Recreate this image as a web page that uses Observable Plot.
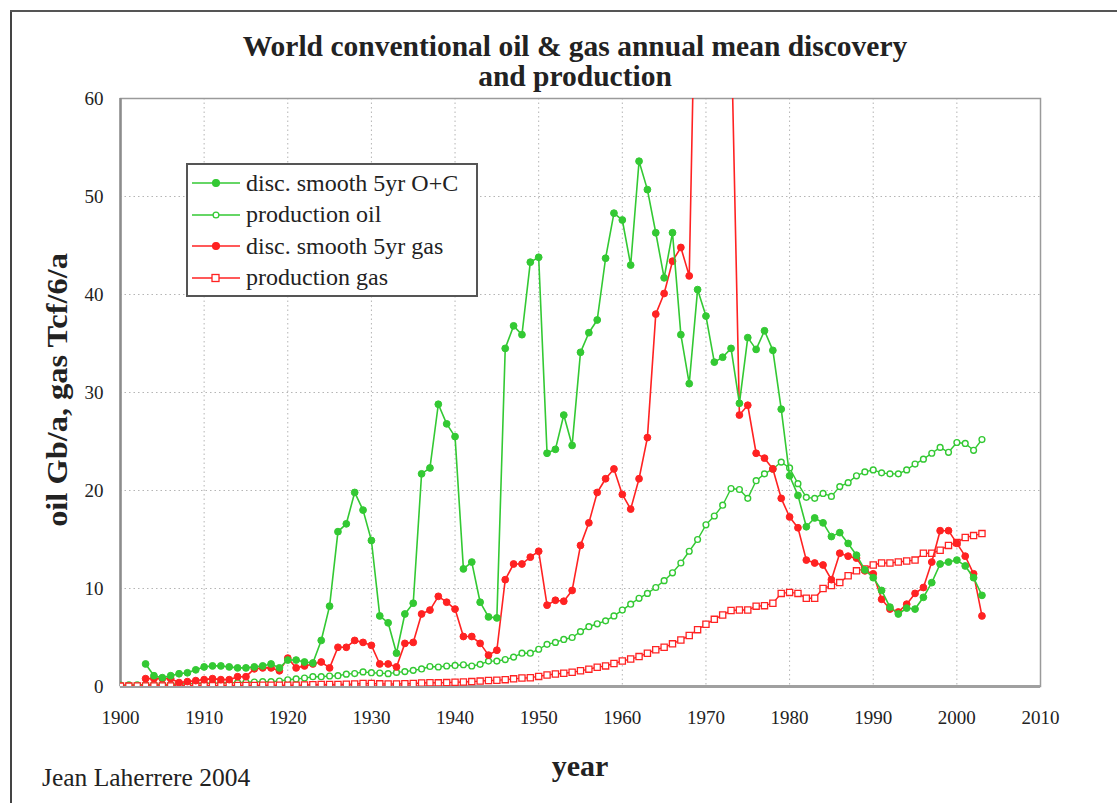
<!DOCTYPE html>
<html>
<head>
<meta charset="utf-8">
<script src="https://cdn.jsdelivr.net/npm/d3@7"></script>
<script src="https://cdn.jsdelivr.net/npm/@observablehq/plot@0.6"></script>
<style>
  html, body { margin: 0; padding: 0; background: #fff; }
  #wrap { position: relative; width: 1117px; height: 803px; overflow: hidden; background: #fff; font-family: "Liberation Serif", "Times New Roman", serif; color: #222; }
  #titlebox { height: 90px; position: relative; }
  .tline { position: absolute; left: 575px; transform: translate(-50%, -50%); white-space: nowrap; font-weight: bold; font-size: 29.5px; line-height: 30px; }
  #chart svg { display: block; font-family: "Liberation Serif", "Times New Roman", serif !important; }
  #chart svg text, #chart svg g { font-family: "Liberation Serif", "Times New Roman", serif !important; }
  .abs { position: absolute; white-space: nowrap; }
  #ylab { left: 57px; top: 390px; transform: translate(-50%, -50%) rotate(-90deg) scaleX(1.08); font-weight: bold; font-size: 30px; }
  #xlab { left: 580px; top: 766px; transform: translate(-50%, -50%); font-weight: bold; font-size: 30px; }
  #caption { left: 42px; top: 778px; transform: translate(0, -50%); font-size: 25.5px; }
  #legend { left: 186px; top: 163px; width: 292px; height: 134px; border: 2px solid #555; box-sizing: border-box; background: #fff; }
  .lrow { position: absolute; left: 0; height: 32px; display: flex; align-items: center; font-size: 24px; }
  .lrow svg { display: block; margin-left: 4px; margin-right: 6px; }
  #bleft { left: 10px; top: 10px; width: 2px; height: 800px; background: #444; }
  #btop { left: 10px; top: 10px; width: 1107px; height: 2px; background: #555; }
</style>
</head>
<body>
<div id="wrap">
  <div id="titlebox">
    <div class="tline" style="top:46px">World conventional oil &amp; gas annual mean discovery</div>
    <div class="tline" style="top:76px">and production</div>
  </div>
  <div id="chart"></div>
  <div id="ylab" class="abs">oil Gb/a, gas Tcf/6/a</div>
  <div id="xlab" class="abs">year</div>
  <div id="caption" class="abs">Jean Laherrere 2004</div>
  <div id="legend" class="abs"></div>
  <div id="bleft" class="abs"></div>
  <div id="btop" class="abs"></div>
</div>
<script>
// ---- data ----
const green = "#33c933";
const red = "#ff2222";

const xTicks = [1900, 1910, 1920, 1930, 1940, 1950, 1960, 1970, 1980, 1990, 2000, 2010];
const yTicks = [0, 10, 20, 30, 40, 50, 60];

// discovery smoothed 5yr oil+condensate, Gb/a, from 1903 to 2003
const discOilStart = 1903;
const discOil = [
  2.3, 1.1, 0.9, 1.1, 1.3, 1.4, 1.7,
  2.0, 2.1, 2.1, 2.0, 1.9, 1.9, 2.0, 2.1, 2.3, 1.9,
  2.7, 2.7, 2.5, 2.4, 4.7, 8.2, 15.8, 16.6, 19.8, 18.0,
  14.9, 7.2, 6.5, 3.4, 7.4, 8.5, 21.7, 22.3, 28.8, 26.8,
  25.5, 12.0, 12.7, 8.6, 7.1, 7.0, 34.5, 36.8, 35.9, 43.3,
  43.8, 23.8, 24.2, 27.7, 24.6, 34.1, 36.1, 37.4, 43.7, 48.3,
  47.6, 43.0, 53.6, 50.7, 46.3, 41.7, 46.3, 35.9, 30.9, 40.5,
  37.8, 33.1, 33.6, 34.5, 28.9, 35.6, 34.4, 36.3, 34.3, 28.3,
  21.5, 19.5, 16.3, 17.2, 16.7, 15.3, 15.7, 14.6, 13.4, 11.9,
  11.1, 9.8, 8.1, 7.4, 8.0, 7.9, 9.1, 10.6, 12.5, 12.7,
  12.9, 12.3, 11.1, 9.3
];

// production oil, Gb/a, 1900 to 2003
const prodOilStart = 1900;
const prodOil = [
  0.15, 0.17, 0.18, 0.19, 0.22, 0.22, 0.21, 0.26, 0.28, 0.30,
  0.33, 0.34, 0.35, 0.38, 0.40, 0.43, 0.46, 0.50, 0.50, 0.56,
  0.69, 0.77, 0.86, 1.0, 1.0, 1.07, 1.1, 1.26, 1.32, 1.49,
  1.41, 1.37, 1.31, 1.44, 1.52, 1.65, 1.79, 2.04, 1.99, 2.09,
  2.15, 2.22, 2.09, 2.26, 2.59, 2.59, 2.75, 3.0, 3.4, 3.4,
  3.8, 4.3, 4.5, 4.8, 5.0, 5.6, 6.1, 6.4, 6.7, 7.2,
  7.8, 8.4, 9.0, 9.5, 10.1, 10.8, 11.6, 12.6, 13.8, 15.0,
  16.5, 17.4, 18.5, 20.2, 20.1, 19.2, 21.0, 21.7, 22.2, 22.9,
  22.3, 20.7, 19.3, 19.2, 19.7, 19.4, 20.4, 20.8, 21.5, 21.9,
  22.1, 21.8, 21.7, 21.7, 22.1, 22.7, 23.2, 23.8, 24.4, 23.9,
  24.9, 24.8, 24.1, 25.2
];

// discovery smoothed 5yr gas, Tcf/6 per year, 1903 to 2003 (1969-1973 off scale)
const discGasStart = 1903;
const discGas = [
  0.8, 0.8, 0.8, 0.8, 0.4, 0.5, 0.6,
  0.7, 0.8, 0.7, 0.7, 1.0, 1.0, 1.8, 1.9, 1.9, 1.6,
  2.9, 1.9, 2.1, 2.3, 2.5, 1.9, 4.0, 4.0, 4.7, 4.5,
  4.2, 2.3, 2.3, 2.0, 4.4, 4.5, 7.4, 7.8, 9.2, 8.6,
  7.9, 5.1, 5.1, 4.4, 3.2, 3.7, 10.9, 12.5, 12.5, 13.2,
  13.8, 8.3, 8.8, 8.7, 9.8, 14.4, 16.7, 19.8, 21.2, 22.2,
  19.6, 18.1, 21.2, 25.4, 38.0, 40.1, 43.4, 44.8, 41.9, 85,
  95, 100, 90, 68, 27.7, 28.7, 23.8, 23.3, 22.2, 19.2,
  17.3, 16.2, 12.9, 12.6, 12.4, 10.9, 13.6, 13.3, 13.1, 11.8,
  11.5, 8.9, 7.9, 7.6, 8.4, 9.5, 10.1, 12.7, 15.9, 15.9,
  14.6, 13.3, 11.5, 7.2
];

// production gas, Tcf/6 per year, 1900 to 2003
const prodGasStart = 1900;
const prodGas = [
  0.04, 0.04, 0.05, 0.05, 0.05, 0.06, 0.06, 0.07, 0.07, 0.08,
  0.08, 0.09, 0.09, 0.10, 0.10, 0.10, 0.11, 0.12, 0.12, 0.12,
  0.13, 0.13, 0.15, 0.19, 0.20, 0.20, 0.21, 0.23, 0.25, 0.30,
  0.30, 0.27, 0.25, 0.26, 0.28, 0.31, 0.35, 0.38, 0.37, 0.40,
  0.43, 0.46, 0.50, 0.55, 0.61, 0.63, 0.70, 0.78, 0.86, 0.90,
  1.03, 1.18, 1.27, 1.35, 1.45, 1.60, 1.77, 1.97, 2.10, 2.35,
  2.60, 2.80, 3.05, 3.40, 3.75, 4.00, 4.35, 4.75, 5.20, 5.80,
  6.35, 6.85, 7.30, 7.75, 7.80, 7.80, 8.20, 8.25, 8.50, 9.50,
  9.60, 9.50, 9.00, 9.00, 10.0, 10.3, 10.6, 11.3, 11.8, 12.0,
  12.4, 12.6, 12.6, 12.7, 12.8, 12.9, 13.6, 13.6, 13.9, 14.4,
  14.7, 15.2, 15.4, 15.6
];

const legendLabels = ["disc. smooth 5yr O+C", "production oil", "disc. smooth 5yr gas", "production gas"];

// ---- build tables ----
const toRows = (start, values) => values.map((v, i) => ({year: start + i, value: v}));
const dOil = toRows(discOilStart, discOil);
const pOil = toRows(prodOilStart, prodOil);
const dGas = toRows(discGasStart, discGas);
const pGas = toRows(prodGasStart, prodGas);

const chart = Plot.plot({
  width: 1117,
  height: 713,
  marginTop: 8,
  marginBottom: 117,
  marginLeft: 120,
  marginRight: 77,
  style: {fontFamily: "Liberation Serif, serif", fontSize: "19px", color: "#222", background: "transparent", overflow: "visible"},
  x: {domain: [1900, 2010], ticks: xTicks, tickFormat: d => String(d), tickSize: 0, tickPadding: 24, label: null},
  y: {domain: [0, 60], ticks: yTicks, tickSize: 0, tickPadding: 17, label: null},
  marks: [
    Plot.ruleX(xTicks, {stroke: "#b5b5b5", strokeDasharray: "1.5,3", strokeWidth: 1}),
    Plot.ruleY(yTicks, {stroke: "#b5b5b5", strokeDasharray: "1.5,3", strokeWidth: 1}),
    Plot.frame({stroke: "#9a9a9a", strokeWidth: 1.5}),
    Plot.ruleX([1900], {stroke: "#8c8c8c", strokeWidth: 2.5}),
    Plot.ruleY([0], {stroke: "#a0a0a0", strokeWidth: 3}),
    Plot.line(pOil, {x: "year", y: "value", stroke: green, strokeWidth: 1.4, clip: true}),
    Plot.dot(pOil, {x: "year", y: "value", r: 2.9, fill: "white", stroke: green, strokeWidth: 1.4, clip: true}),
    Plot.line(pGas, {x: "year", y: "value", stroke: red, strokeWidth: 1.4, clip: true}),
    Plot.dot(pGas, {x: "year", y: "value", symbol: "square", r: 3.5, fill: "white", stroke: red, strokeWidth: 1.3, clip: true}),
    Plot.line(dGas, {x: "year", y: "value", stroke: red, strokeWidth: 1.6, clip: true}),
    Plot.dot(dGas, {x: "year", y: "value", r: 3.4, fill: red, stroke: red, strokeWidth: 1, clip: true}),
    Plot.line(dOil, {x: "year", y: "value", stroke: green, strokeWidth: 1.6, clip: true}),
    Plot.dot(dOil, {x: "year", y: "value", r: 3.4, fill: green, stroke: green, strokeWidth: 1, clip: true})
  ]
});
document.getElementById("chart").appendChild(chart);

// ---- legend ----
const legendStyles = [
  {color: green, fill: green, shape: "circle"},
  {color: green, fill: "white", shape: "circle"},
  {color: red, fill: red, shape: "circle"},
  {color: red, fill: "white", shape: "square"}
];
const legend = document.getElementById("legend");
legendLabels.forEach((lab, i) => {
  const st = legendStyles[i];
  const row = document.createElement("div");
  row.className = "lrow";
  row.style.top = (2 + i * 31.5) + "px";
  const marker = st.shape === "square"
    ? `<rect x="20" y="3.5" width="7" height="7" fill="${st.fill}" stroke="${st.color}" stroke-width="1.3"/>`
    : `<circle cx="24" cy="7" r="${st.fill === "white" ? 2.9 : 3.4}" fill="${st.fill}" stroke="${st.color}" stroke-width="1.3"/>`;
  row.innerHTML = `<svg width="48" height="14"><line x1="0" y1="7" x2="48" y2="7" stroke="${st.color}" stroke-width="1.6"/>${marker}</svg><span>${lab}</span>`;
  legend.appendChild(row);
});
</script>
</body>
</html>
